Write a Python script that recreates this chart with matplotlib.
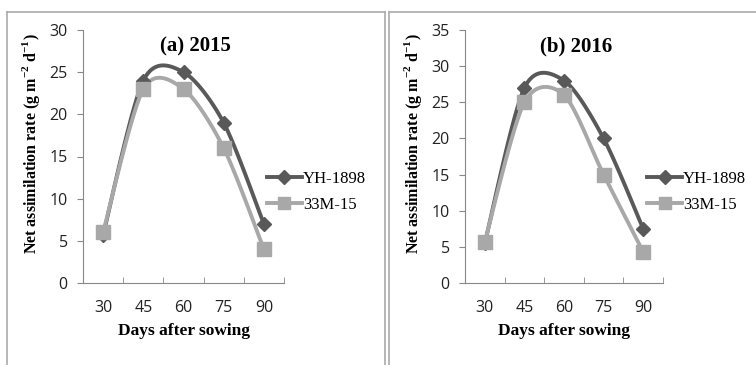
import numpy as np
import matplotlib.pyplot as plt
from matplotlib.lines import Line2D

plt.rcParams['mathtext.fontset'] = 'custom'
plt.rcParams['mathtext.rm'] = 'Liberation Serif'
plt.rcParams['mathtext.bf'] = 'Liberation Serif:bold'

days = ['30', '45', '60', '75', '90']
yh_2015 = [5.7, 24, 25, 19, 7]
m33_2015 = [6, 23, 23, 16, 4]
yh_2016 = [5.5, 27, 28, 20, 7.5]
m33_2016 = [5.7, 25, 26, 15, 4.3]

dark = '#595959'
light = '#a8a8a8'


def smooth(x, y, n=30, k=7.0):
    # cardinal-spline curve, similar to Excel "smoothed line"
    x = np.asarray(x, float)
    y = np.asarray(y, float)
    xs, ys = [], []
    for i in range(len(x) - 1):
        j0 = max(i - 1, 0)
        j3 = min(i + 2, len(x) - 1)
        t = np.linspace(0, 1, n)
        for arr, out in [(x, xs), (y, ys)]:
            a, b, c, d = arr[j0], arr[i], arr[i + 1], arr[j3]
            c1 = b + (c - a) / k
            c2 = c - (d - b) / k
            out.append((1 - t) ** 3 * b + 3 * (1 - t) ** 2 * t * c1 + 3 * (1 - t) * t ** 2 * c2 + t ** 3 * c)
    return np.concatenate(xs), np.concatenate(ys)


fig = plt.figure(figsize=(7.56, 3.65), dpi=100)
W, H = 756, 365

panels = [
    (83, 284, 30, 0.915, '(a) 2015', yh_2015, m33_2015, 'YH-1898'),
    (465, 663, 35, 0.92, '(b) 2016', yh_2016, m33_2016, 'YH-1898'),
]

for x0, x1, ymax, legx, title, yh, m33, lab in panels:
    ax = fig.add_axes([x0 / W, (H - 283) / H, (x1 - x0) / W, (283 - 30) / H])
    xpos = np.arange(len(days))
    for vals, col, mk, ms in [(yh, dark, 'D', 7), (m33, light, 's', 10)]:
        sx, sy = smooth(xpos, vals)
        ax.plot(sx, sy, color=col, lw=2.8, zorder=2)
        ax.plot(xpos, vals, ls='none', marker=mk, ms=ms, color=col, zorder=3)
    ax.set_xlim(-0.5, len(days) - 0.5)
    ax.set_ylim(0, ymax)
    ax.set_yticks(np.arange(0, ymax + 1, 5))
    ax.set_xticks(xpos)
    ax.set_xticklabels(days)
    ax.set_xticks(np.arange(-0.5, len(days)), minor=True)
    ax.tick_params(axis='x', which='major', length=0, pad=12)
    ax.tick_params(axis='x', which='minor', length=4, direction='in', color='#888888')
    ax.tick_params(axis='y', length=4, direction='out', color='#888888', pad=7)
    for t in ax.get_xticklabels() + ax.get_yticklabels():
        t.set_fontfamily('Open Sans')
        t.set_fontsize(11.5)
        t.set_color('#222222')
    for s in ['top', 'right']:
        ax.spines[s].set_visible(False)
    for s in ['left', 'bottom']:
        ax.spines[s].set_color('#888888')
    ax.text(0.56, 0.975, title, transform=ax.transAxes, ha='center', va='top',
            family='Liberation Serif', fontweight='bold', fontsize=15)
    ax.set_xlabel('Days after sowing', family='Liberation Serif', fontweight='bold', fontsize=12.5, labelpad=5)
    ax.set_ylabel(r'Net assimilation rate (g m$^{\mathbf{-2}}$ d$^{\mathbf{-1}}$)',
                  family='Liberation Serif', fontweight='bold', fontsize=11.5, labelpad=8)
    ax.yaxis.set_label_coords(-0.205, 0.55)
    handles = [Line2D([], [], color=dark, lw=2.8, marker='D', ms=7),
               Line2D([], [], color=light, lw=2.8, marker='s', ms=9)]
    ax.legend(handles, [lab, '33M-15'], loc='center left', bbox_to_anchor=(legx, 0.36),
              frameon=False, handlelength=2.1, handletextpad=0.05, labelspacing=0.6,
              borderpad=0, borderaxespad=0,
              prop={'family': 'Liberation Serif', 'size': 12})

# panel frames
c = '#aaaaaa'
for xa, xb in [(7, 385), (389, 756)]:
    fig.add_artist(Line2D([xa / W, xb / W], [(H - 12) / H] * 2, color=c, lw=1.2))
    fig.add_artist(Line2D([xa / W] * 2, [0, (H - 12) / H], color=c, lw=1.2))
fig.add_artist(Line2D([385 / W] * 2, [0, (H - 12) / H], color=c, lw=1.2))

fig.savefig('out.png', dpi=100, facecolor='white')
